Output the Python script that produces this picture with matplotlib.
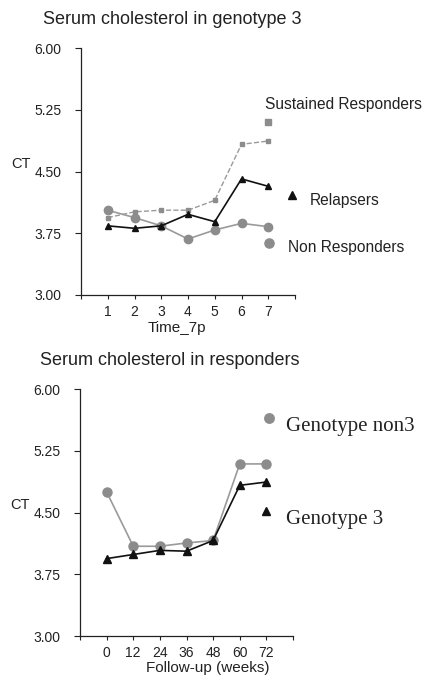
import matplotlib
matplotlib.use("Agg")
import matplotlib.pyplot as plt

# ---- data ----
time_points = [1, 2, 3, 4, 5, 6, 7]
time_ticks = [0, 1, 2, 3, 4, 5, 6, 7, 8]
time_labels = ["", "1", "2", "3", "4", "5", "6", "7", ""]
sustained = [3.94, 4.01, 4.03, 4.03, 4.15, 4.83, 4.87]
relapsers = [3.84, 3.81, 3.84, 3.98, 3.89, 4.41, 4.32]
non_resp = [4.03, 3.94, 3.84, 3.68, 3.79, 3.87, 3.83]

weeks = [0, 12, 24, 36, 48, 60, 72]
week_ticks = [-12, 0, 12, 24, 36, 48, 60, 72, 84]
week_labels = ["", "0", "12", "24", "36", "48", "60", "72", ""]
geno_non3 = [4.75, 4.09, 4.09, 4.13, 4.16, 5.09, 5.09]
geno_3 = [3.94, 3.99, 4.04, 4.03, 4.16, 4.83, 4.87]

y_ticks = [3.00, 3.75, 4.50, 5.25, 6.00]
y_labels = ["3.00", "3.75", "4.50", "5.25", "6.00"]

W, H = 424, 676
fig = plt.figure(figsize=(W / 100, H / 100), dpi=100)
plt.rcParams['font.family'] = ['Liberation Sans', 'DejaVu Sans']

def px_axes(l, r, t, b):
    return fig.add_axes([l / W, 1 - b / H, (r - l) / W, (b - t) / H])

def style(ax):
    for s in ("top", "right"):
        ax.spines[s].set_visible(False)
    for s in ("left", "bottom"):
        ax.spines[s].set_linewidth(0.9)
        ax.spines[s].set_color("#222222")
    ax.set_ylim(3.0, 6.0)
    ax.set_yticks(y_ticks)
    ax.set_yticklabels(y_labels)
    ax.tick_params(axis="y", direction="out", length=4, width=0.8, pad=10,
                   labelsize=10, colors="#222222")
    ax.tick_params(axis="x", direction="out", length=3, width=0.8, pad=4,
                   labelsize=10, colors="#222222")

GRAY_LINE = "#9a9a9a"
GRAY_MARK = "#8c8c8c"

# ---- top panel ----
ax1 = px_axes(81, 295, 48, 295)
style(ax1)
ax1.set_xlim(0, 8)
ax1.set_xticks(time_ticks)
ax1.set_xticklabels(time_labels)
ax1.plot(time_points, sustained, ls="--", color=GRAY_LINE, lw=1.0,
         marker="s", ms=3.4, mfc=GRAY_MARK, mec=GRAY_MARK, zorder=2)
ax1.plot(time_points, non_resp, ls="-", color=GRAY_LINE, lw=1.2,
         marker="o", ms=6, mfc=GRAY_MARK, mec=GRAY_MARK, zorder=3)
ax1.plot(time_points, relapsers, ls="-", color="#111111", lw=1.2,
         marker="^", ms=5, mfc="#111111", mec="#111111", zorder=4)

# legend-like annotations
ax1.plot([6.98], [5.10], marker="s", ms=3.8, color=GRAY_MARK, ls="none", clip_on=False)
ax1.text(6.88, 5.31, "Sustained Responders", fontsize=11.2, va="center", ha="left",
         color="#222222", clip_on=False)
ax1.plot([7.88], [4.21], marker="^", ms=6, color="#111111", ls="none", clip_on=False)
ax1.text(8.55, 4.15, "Relapsers", fontsize=11.2, va="center", ha="left",
         color="#222222", clip_on=False)
ax1.plot([7.04], [3.63], marker="o", ms=6.6, color=GRAY_MARK, ls="none", clip_on=False)
ax1.text(7.72, 3.58, "Non Responders", fontsize=11.2, va="center", ha="left",
         color="#222222", clip_on=False)

fig.text(43 / W, 1 - 20 / H, "Serum cholesterol in genotype 3", fontsize=13,
         va="center", ha="left", color="#222222")
fig.text(21 / W, 1 - 164 / H, "CT", fontsize=10.5, va="center", ha="center",
         color="#222222")
fig.text(177 / W, 1 - 328 / H, "Time_7p", fontsize=11, va="center", ha="center",
         color="#222222")

# ---- bottom panel ----
ax2 = px_axes(80, 293, 389, 636)
style(ax2)
ax2.set_xlim(-12, 84)
ax2.set_xticks(week_ticks)
ax2.set_xticklabels(week_labels)
ax2.plot(weeks, geno_non3, ls="-", color=GRAY_LINE, lw=1.2,
         marker="o", ms=6.5, mfc=GRAY_MARK, mec=GRAY_MARK, zorder=3)
ax2.plot(weeks, geno_3, ls="-", color="#111111", lw=1.2,
         marker="^", ms=5.2, mfc="#111111", mec="#111111", zorder=4)

ax2.plot([73.2], [5.65], marker="o", ms=6.8, color=GRAY_MARK, ls="none", clip_on=False)
ax2.text(80.9, 5.55, "Genotype non3", fontsize=15, va="center", ha="left",
         family=["Liberation Serif", "DejaVu Serif"], color="#222222", clip_on=False)
ax2.plot([71.9], [4.52], marker="^", ms=6, color="#111111", ls="none", clip_on=False)
ax2.text(80.9, 4.41, "Genotype 3", fontsize=15, va="center", ha="left",
         family=["Liberation Serif", "DejaVu Serif"], color="#222222", clip_on=False)

fig.text(40 / W, 1 - 360 / H, "Serum cholesterol in responders", fontsize=13,
         va="center", ha="left", color="#222222")
fig.text(20 / W, 1 - 505 / H, "CT", fontsize=10.5, va="center", ha="center",
         color="#222222")
fig.text(208 / W, 1 - 668 / H, "Follow-up (weeks)", fontsize=11, va="center",
         ha="center", color="#222222")

fig.savefig("out.png", dpi=100)
